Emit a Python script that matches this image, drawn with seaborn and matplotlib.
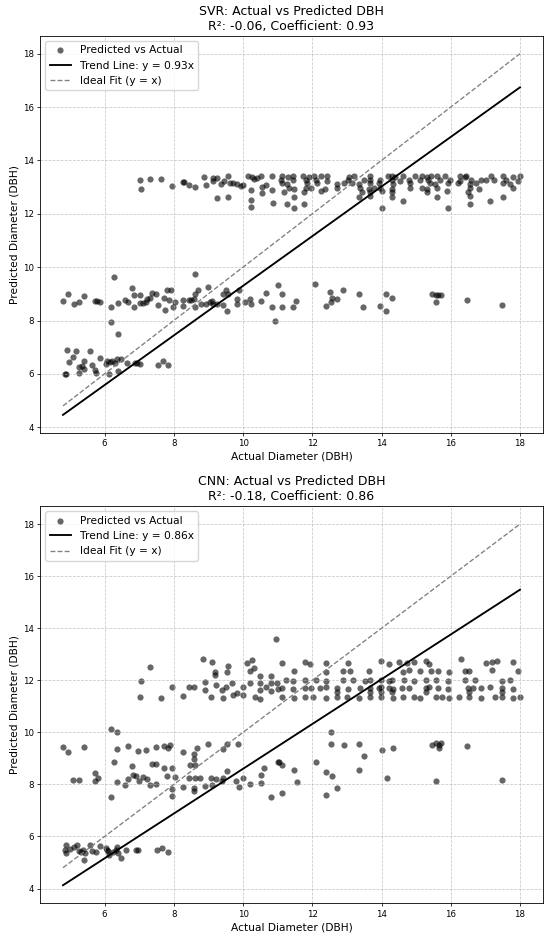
import numpy as np
import pandas as pd
import seaborn as sns
import matplotlib.pyplot as plt

# SVR predictions
svr_low_x = [4.91, 4.89, 4.87, 4.96, 5.10, 5.18, 5.25, 5.26, 5.36, 5.41, 5.41, 5.57, 5.63, 5.73,
             5.74, 5.88, 6.05, 6.07, 6.12, 6.16, 6.22, 6.31, 6.36, 6.38, 6.47, 6.64, 6.88, 6.95,
             7.01, 7.53, 7.68, 7.84]
svr_low_y = [6.91, 6.00, 6.00, 6.46, 6.62, 6.84, 6.24, 6.04, 6.31, 6.50, 6.20, 6.86, 6.33, 6.15,
             6.05, 6.58, 6.37, 6.48, 6.00, 6.43, 6.47, 6.40, 6.56, 6.09, 6.54, 6.40, 6.40, 6.40,
             6.38, 6.35, 6.47, 6.32]

svr_mid_x = [4.80, 4.93, 5.11, 5.26, 5.42, 5.73, 5.78, 5.86, 6.27, 6.20, 6.20, 6.38, 6.38, 6.60,
             6.69, 6.79, 6.84, 6.86, 7.01, 7.03, 7.10, 7.19, 7.24, 7.30, 7.38, 7.49, 7.53, 7.72,
             7.76, 7.80, 7.85, 7.93, 7.97, 8.03, 8.26, 8.28, 8.43, 8.51, 8.59, 8.61, 8.61, 8.61,
             8.69, 8.80, 8.92, 8.99, 9.05, 9.09, 9.14, 9.24, 9.43, 9.43, 9.52, 9.55, 9.57, 9.82,
             9.84, 9.88, 10.07, 10.20, 10.23, 10.53, 10.65, 10.85, 10.92, 11.00, 11.12, 11.14,
             11.45, 11.53, 12.08, 12.39, 12.52, 12.56, 12.54, 12.71, 12.89, 13.34, 13.47, 13.97,
             14.14, 14.30, 14.14, 15.47, 15.57, 15.64, 15.71, 15.58, 16.46, 17.48]
svr_mid_y = [8.73, 8.99, 8.61, 8.71, 8.91, 8.75, 8.73, 8.71, 9.62, 8.49, 7.93, 8.67, 7.49, 8.78,
             8.71, 9.20, 8.51, 8.95, 8.95, 8.66, 8.66, 8.68, 8.81, 8.84, 9.02, 9.00, 8.59, 8.86,
             8.40, 9.16, 8.78, 9.16, 8.51, 8.68, 8.78, 8.56, 8.78, 8.78, 8.80, 8.52, 9.00, 9.73,
             9.16, 8.61, 8.61, 9.25, 8.68, 8.73, 8.61, 8.61, 8.59, 8.98, 9.14, 8.35, 9.00, 8.61,
             8.81, 9.13, 8.68, 8.81, 8.61, 8.73, 9.05, 8.49, 8.00, 9.32, 9.01, 8.51,
             8.51, 8.73, 9.38, 8.53, 9.07, 8.83, 8.68, 8.79, 9.14, 8.98, 8.51, 8.56,
             8.98, 8.86, 8.36, 8.98, 8.97, 8.97, 8.95, 8.68, 8.78, 8.60]

svr_high_x = [7.01, 7.05, 7.32, 7.64, 7.96, 8.27, 8.30, 8.45, 8.61, 8.88, 8.93, 9.13, 9.14, 9.24,
              9.26, 9.36, 9.45, 9.57, 9.57, 9.61, 9.72, 9.82, 9.93, 10.01, 10.13, 10.22, 10.22,
              10.22, 10.26, 10.32, 10.39, 10.53, 10.54, 10.55, 10.65, 10.83, 10.84, 10.86,
              11.14, 11.30, 11.45, 11.74, 11.90, 12.05, 12.24, 12.43, 13.05, 13.20, 13.67, 14.20,
              14.30, 14.39, 14.63, 14.97, 15.16, 15.30, 15.44, 15.59, 15.83, 16.26, 16.40, 16.45,
              17.17, 17.50, 17.79, 18.00,
              11.09, 11.43, 11.81, 12.10, 12.43, 13.02, 13.48, 13.67, 13.96, 14.30, 14.54, 14.80,
              15.11, 15.35, 15.68, 15.97, 16.26, 16.59, 16.88, 17.02, 17.26, 17.60, 17.93,
              11.14, 11.28, 11.86, 12.14, 12.72, 12.91, 13.15, 13.34, 13.67, 13.94, 14.34, 14.82,
              15.40, 15.54, 15.92, 16.21, 16.55, 16.74, 17.50, 17.71,
              11.33, 11.47, 11.81, 11.95, 12.38, 12.72, 13.39, 13.63, 13.77, 13.96, 14.30, 14.82,
              15.16, 15.30, 15.59, 16.55, 16.83, 17.79,
              11.19, 11.76, 12.24, 13.44, 13.67, 14.01, 14.30, 15.30, 15.88, 16.50,
              11.47, 13.34, 13.67, 14.30, 15.59, 16.55, 17.50,
              14.63, 17.12, 11.28, 11.76, 16.55, 11.47, 14.01, 15.92]
svr_high_y = [13.25, 12.94, 13.32, 13.31, 13.06, 13.21, 13.19, 13.07, 13.02, 13.38, 13.09, 13.35,
              13.23, 13.35, 12.60, 13.12, 13.22, 13.40, 12.62, 13.15, 13.17, 13.12, 13.06, 13.09,
              13.42, 12.88, 12.53, 12.26, 13.38, 13.32, 13.33, 13.40, 12.78, 13.00, 13.07, 12.88,
              13.40, 12.41,
              13.41, 13.39, 13.42, 13.40, 13.38, 13.41, 13.43, 13.40, 13.39, 13.42, 13.41, 13.40,
              13.43, 13.38, 13.41, 13.40, 13.42, 13.39, 13.41, 13.40, 13.43, 13.41, 13.38, 13.40,
              13.42, 13.41, 13.39, 13.40,
              13.26, 13.25, 13.28, 13.26, 13.24, 13.27, 13.26, 13.25, 13.28, 13.26, 13.24, 13.27,
              13.26, 13.25, 13.28, 13.26, 13.24, 13.27, 13.26, 13.25, 13.28, 13.26, 13.24,
              13.14, 13.12, 13.15, 13.14, 13.13, 13.16, 13.14, 13.12, 13.15, 13.14, 13.13, 13.16,
              13.14, 13.12, 13.15, 13.14, 13.13, 13.16, 13.14, 13.12,
              12.95, 12.93, 12.96, 12.95, 12.94, 12.97, 12.95, 12.93, 12.96, 12.95, 12.94, 12.97,
              12.95, 12.93, 12.96, 12.95, 12.94, 12.97,
              12.83, 12.82, 12.84, 12.83, 12.81, 12.84, 12.83, 12.82, 12.84, 12.83,
              12.64, 12.63, 12.65, 12.64, 12.62, 12.65, 12.64,
              12.49, 12.49, 12.37, 12.37, 12.37, 12.21, 12.21, 12.21]

# CNN predictions
cnn_low_x = [4.88, 4.87, 4.90, 5.00, 5.13, 5.21, 5.26, 5.31, 5.39, 5.41, 5.44, 5.57, 5.64, 5.74,
             5.88, 6.03, 6.08, 6.09, 6.13, 6.24, 6.32, 6.36, 6.39, 6.48, 6.63, 6.90, 6.98, 7.51,
             7.67, 7.83]
cnn_low_y = [5.37, 5.47, 5.66, 5.52, 5.59, 5.69, 5.43, 5.39, 5.50, 5.11, 5.37, 5.69, 5.46, 5.41,
             5.63, 5.55, 5.50, 5.45, 5.30, 5.39, 5.50, 5.60, 5.37, 5.17, 5.50, 5.50, 5.50, 5.50,
             5.54, 5.39]

cnn_mid_x = [4.80, 4.93, 5.41, 6.19, 6.36, 6.36, 6.68, 6.98, 7.19, 7.48, 7.73, 7.82, 7.90, 6.28,
             6.78, 7.36, 7.48, 7.73, 7.96, 7.80, 8.26, 8.59, 8.59, 8.68, 8.98, 8.46, 8.60, 9.43,
             9.54, 9.85, 9.54, 5.09, 5.25, 5.73, 5.82, 5.73, 6.36, 6.59, 6.67, 6.83, 6.91, 7.00,
             7.12, 7.24, 7.32, 7.50, 8.04, 8.27, 8.43, 8.60, 8.76, 8.59, 8.59, 8.90, 9.07, 9.09,
             9.21, 9.39, 9.43, 9.80, 9.87, 10.01, 10.19, 10.51, 10.51, 10.62, 11.00, 6.20, 7.96,
             7.96, 10.82,
             11.05, 11.14, 11.46, 11.55, 11.14, 12.10, 12.41, 12.56, 12.72, 12.41, 13.36, 14.16,
             15.58, 17.49, 12.55, 12.54, 12.91, 13.36, 13.50, 14.00, 14.32, 15.45, 15.57, 15.65,
             15.72, 15.66, 16.47]
cnn_mid_y = [9.44, 9.24, 9.44, 10.14, 10.02, 9.37, 9.49, 9.29, 9.33, 9.44, 9.49, 9.41, 9.50, 8.85,
             8.72, 8.78, 8.78, 8.63, 8.63, 8.32, 9.24, 9.15, 8.98, 9.41, 9.57, 8.75, 8.76, 9.37,
             9.57, 9.54, 8.53, 8.18, 8.16, 8.44, 8.23, 8.13, 8.10, 7.99, 8.19, 8.38, 8.32, 8.12,
             8.27, 8.19, 7.99, 8.03, 8.27, 7.91, 8.23, 8.23, 8.26, 7.86, 7.73, 7.95, 8.23, 7.97,
             8.19, 8.12, 8.25, 8.12, 7.92, 8.23, 8.01, 8.38, 8.04, 8.62, 8.87, 7.53, 7.81,
             7.55, 7.53,
             8.85, 8.74, 8.56, 8.10, 7.68, 8.85, 8.48, 8.32, 7.88, 7.59, 8.56, 8.23,
             8.14, 8.18, 10.02, 9.57, 9.51, 9.57, 9.10, 9.31, 9.40, 9.50, 9.58, 9.52,
             9.58, 9.40, 9.46]

cnn_high_x = [10.95, 8.85, 9.11, 7.32, 7.04, 7.01, 7.63, 7.96, 8.26, 8.43, 8.58, 8.90, 8.90, 9.07,
              9.20, 9.20, 9.23, 9.39, 9.43, 9.50, 9.54, 9.58, 9.68, 9.70, 9.84, 10.00, 10.00,
              10.12, 10.19, 10.26, 10.31, 10.19, 10.34, 10.50, 10.50, 10.50, 10.50, 10.65, 10.82,
              10.82, 10.82, 10.97, 11.00,
              11.14, 11.78, 11.92, 12.41, 13.04, 13.99, 14.21, 14.50, 14.74, 14.94, 15.28, 15.38,
              16.30, 17.03, 17.18, 17.33, 17.81,
              11.46, 12.41, 12.89, 13.09, 13.65, 14.63, 14.79, 15.11, 15.44, 15.62, 15.96, 16.40,
              16.54, 17.18, 17.93,
              11.24, 11.44, 11.78, 12.12, 12.41, 12.89, 13.17, 13.53, 13.67, 13.99, 14.21, 14.31,
              14.65, 14.94, 15.28, 15.57, 15.91, 16.40, 16.69, 17.47, 17.71,
              11.14, 11.44, 11.78, 11.97, 12.21, 12.41, 12.72, 13.04, 13.38, 13.67, 13.92, 13.99,
              14.21, 14.33, 14.60, 14.79, 15.28, 15.38, 15.62, 15.91, 16.49, 16.64, 16.88, 17.13,
              17.47, 17.81,
              11.14, 11.46, 11.78, 12.02, 12.41, 12.72, 12.99, 13.36, 13.67, 13.99, 14.33, 14.63,
              14.94, 15.11, 15.57, 15.76, 15.96, 16.23, 16.54, 16.86, 17.27, 17.49, 17.81, 18.00,
              12.72, 13.67, 13.99, 14.31, 15.28, 16.54, 17.49]
cnn_high_y = [13.58, 12.83, 12.72, 12.52, 11.99, 11.34, 11.31, 11.74, 11.38, 11.74, 11.74, 11.92,
              11.64, 11.34, 12.31, 12.22, 11.83, 11.64, 11.31, 11.74, 12.31, 12.54, 11.90, 11.44,
              11.51, 11.44, 11.74, 12.67, 12.35, 12.78, 12.48, 11.90, 11.34, 12.18, 11.90, 11.64,
              11.28, 11.74, 12.18, 11.90, 11.57, 11.90, 11.66,
              12.67, 12.70, 12.62, 12.66, 12.68, 12.76, 12.64, 12.69, 12.66, 12.70, 12.74, 12.63,
              12.83, 12.65, 12.69, 12.74, 12.71,
              12.35, 12.33, 12.37, 12.34, 12.36, 12.33, 12.38, 12.35, 12.34, 12.37, 12.33, 12.36,
              12.35, 12.38, 12.34,
              12.00, 11.98, 12.02, 12.01, 11.99, 12.03, 12.00, 11.98, 12.02, 12.01, 11.99, 12.03,
              12.00, 11.98, 12.02, 12.01, 11.99, 12.03, 12.00, 11.98, 12.02,
              11.70, 11.68, 11.72, 11.71, 11.69, 11.73, 11.70, 11.68, 11.72, 11.71, 11.69, 11.73,
              11.70, 11.68, 11.72, 11.71, 11.69, 11.73, 11.70, 11.68, 11.72, 11.71, 11.69, 11.73,
              11.70, 11.68,
              11.34, 11.32, 11.36, 11.35, 11.33, 11.37, 11.34, 11.32, 11.36, 11.35, 11.33, 11.37,
              11.34, 11.32, 11.36, 11.35, 11.33, 11.37, 11.34, 11.32, 11.36, 11.35, 11.33, 11.37,
              11.55, 11.55, 11.55, 11.55, 11.55, 11.55, 11.55]

models = ["SVR", "CNN"]
r2_scores = [-0.06, -0.18]
coefficients = [0.93, 0.86]

svr = pd.DataFrame({"actual": svr_low_x + svr_mid_x + svr_high_x,
                    "predicted": svr_low_y + svr_mid_y + svr_high_y})
cnn = pd.DataFrame({"actual": cnn_low_x + cnn_mid_x + cnn_high_x,
                    "predicted": cnn_low_y + cnn_mid_y + cnn_high_y})

plt.rcParams["font.size"] = 6.4

fig, axes = plt.subplots(2, 1, figsize=(5.5, 9.38), dpi=100)

for ax, name, df, r2, coef in zip(axes, models, [svr, cnn], r2_scores, coefficients):
    sns.scatterplot(x="actual", y="predicted", data=df, ax=ax, color="black", alpha=0.6,
                    s=20, linewidth=0, label="Predicted vs Actual")
    x_line = np.linspace(df["actual"].min(), df["actual"].max(), 100)
    ax.plot(x_line, coef * x_line, color="black", linewidth=1.35,
            label=f"Trend Line: y = {coef:.2f}x")
    ax.plot(x_line, x_line, color="gray", linestyle="--", linewidth=0.96,
            label="Ideal Fit (y = x)")
    ax.set_title(f"{name}: Actual vs Predicted DBH\nR²: {r2:.2f}, Coefficient: {coef:.2f}",
                 fontsize=9.0, pad=4)
    ax.set_xlabel("Actual Diameter (DBH)", fontsize=7.7, labelpad=2.5)
    ax.set_ylabel("Predicted Diameter (DBH)", fontsize=7.7, labelpad=2.5)
    ax.tick_params(labelsize=6.2, width=0.55, length=2.4, pad=2.2)
    for sp in ax.spines.values():
        sp.set_linewidth(0.6)
    ax.grid(True, linestyle="--", linewidth=0.55, alpha=0.7)
    ax.legend(loc="upper left", fontsize=7.7)

fig.subplots_adjust(left=0.073, right=0.987, top=0.962, bottom=0.037, hspace=0.184)
plt.savefig("out.png")
